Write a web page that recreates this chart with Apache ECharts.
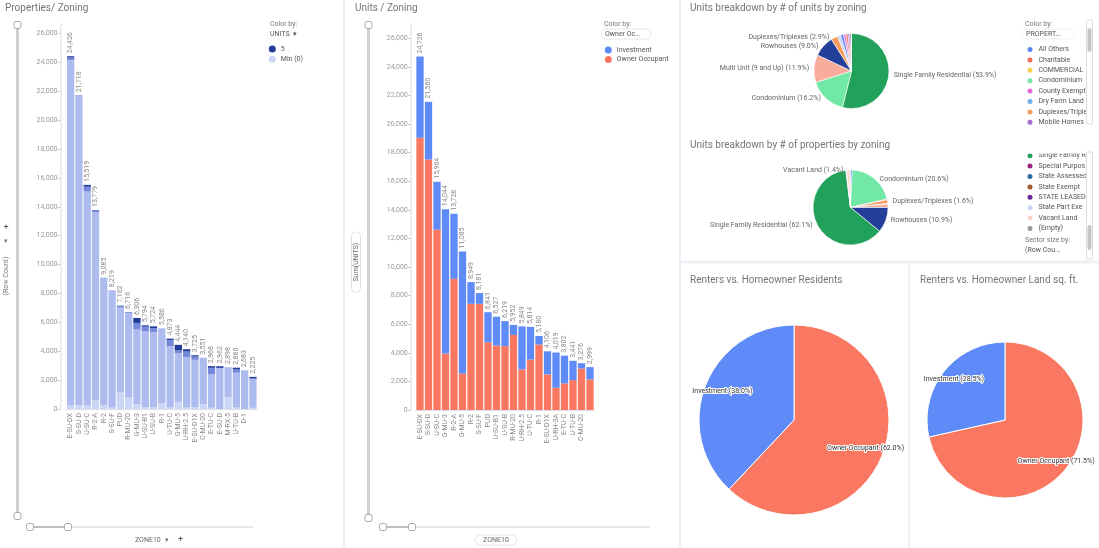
<!DOCTYPE html>
<html>
<head>
<meta charset="utf-8">
<title>Zoning dashboard</title>
<script src="https://cdn.jsdelivr.net/npm/echarts/dist/echarts.min.js"></script>
<style>
  html, body { margin: 0; padding: 0; background: #fff; }
  #main { width: 1099px; height: 548px; }
</style>
</head>
<body>
<div id="main"></div>
<script>
// ---- Properties / Zoning (row count, stacked by UNITS) ----
const propZones = ['E-SU-DX', 'S-SU-D', 'U-SU-C', 'R-2-A', 'R-2', 'S-SU-F', 'PUD', 'R-MU-20', 'G-MU-3', 'U-SU-B1', 'U-SU-B', 'R-1',
  'U-TU-C', 'G-MU-5', 'U-RH-2.5', 'E-SU-D1X', 'C-MU-20', 'E-TU-C', 'E-SU-D', 'M-RX-5', 'U-TU-B', 'D-1', 'U-RH-3A']
const propTotals = [24426, 21718, 15519, 13779, 9085, 8219, 7162, 6716, 6306, 5794, 5724, 5586, 4873, 4444, 4140, 3725, 3551, 2968, 2962, 2898, 2860, 2683, 2225]
const propUnits0 = [250, 280, 250, 620, 280, 90, 1150, 800, 320, 115, 115, 415, 100, 500, 100, 115, 345, 90, 0, 830, 100, 0, 80]
const propUnits1 = [23906, 21378, 14809, 13019, 8755, 8129, 5872, 5856, 5181, 5269, 5219, 5171, 4243, 3369, 3490, 3290, 3206, 2303, 2847, 2068, 2415, 2683, 2030]
const propUnits2to4 = [180, 60, 330, 140, 50, 0, 140, 60, 460, 320, 275, 0, 440, 185, 390, 230, 0, 460, 0, 0, 230, 0, 0]
const propUnits5 = [90, 0, 130, 0, 0, 0, 0, 0, 345, 90, 115, 0, 90, 390, 160, 90, 0, 115, 115, 0, 115, 0, 115]

// ---- Units / Zoning (sum of units, owner vs investment) ----
const unitZones = ['E-SU-DX', 'S-SU-D', 'U-SU-C', 'G-MU-3', 'R-2-A', 'G-MU-5', 'R-2', 'S-SU-F', 'PUD', 'U-SU-B1', 'U-SU-B', 'R-MU-20',
  'U-RH-2.5', 'U-TU-C', 'R-1', 'E-SU-D1X', 'U-RH-3A', 'E-TU-C', 'U-TU-B', 'C-MU-20', 'E-SU-D']
const unitTotals = [24726, 21560, 15964, 14044, 13728, 11085, 8949, 8181, 6841, 6527, 6219, 5952, 5849, 5814, 5180, 4106, 4019, 3802, 3441, 3276, 2999]
const unitOwner = [19040, 17520, 12620, 3950, 9175, 2560, 7425, 7425, 4740, 4510, 4470, 5250, 2840, 3530, 4580, 2490, 1555, 1860, 2090, 2900, 2140]
const unitInvest = [5686, 4040, 3344, 10094, 4553, 8525, 1524, 756, 2101, 2017, 1749, 702, 3009, 2284, 600, 1616, 2464, 1942, 1351, 376, 859]

// ---- pies (percent) ----
const unitsPieNames = ['Single Family Residential', 'Condominium', 'Multi Unit (9 and Up)', 'Rowhouses', 'Duplexes/Triplexes',
  'State Part Exempt', 'All Others', 'County Exempt', 'Charitable', 'Mobile Homes', '(Empty)',
  'Dry Farm Land', 'COMMERCIAL CONDO', 'Special Purpose', 'State Assessed', 'State Exempt', 'STATE LEASED-CO', 'Vacant Land']
const unitsPieValues = [53.9, 16.2, 11.9, 9.0, 2.9, 1.4, 1.3, 1.0, 0.9, 0.8, 0.7, 0, 0, 0, 0, 0, 0, 0]

const propsPieNames = ['All Others', 'Condominium', 'County Exempt', 'Duplexes/Triplexes', 'Mobile Homes', 'Multi Unit (9 and Up)',
  'Rowhouses', 'Single Family Residential', 'Special Purpose', 'State Part Exempt', 'Vacant Land', '(Empty)']
const propsPieValues = [0.8, 20.6, 0.3, 1.6, 0.2, 1.5, 10.9, 62.1, 0.2, 0.2, 1.4, 0.2]

const tenureNames = ['Owner Occupant', 'Investment']
const residentValues = [62.0, 38.0]
const landValues = [71.5, 28.5]

const legendTop = ['All Others', 'Charitable', 'COMMERCIAL CONDO', 'Condominium', 'County Exempt', 'Dry Farm Land', 'Duplexes/Triplexes', 'Mobile Homes']
const legendBottom = ['Single Family Residential', 'Special Purpose', 'State Assessed', 'State Exempt', 'STATE LEASED-CO', 'State Part Exempt', 'Vacant Land', '(Empty)']

const typeColors = {
  'All Others': '#5b87f5',
  'Charitable': '#f26a4f',
  'COMMERCIAL CONDO': '#f8d04a',
  'Condominium': '#72e8a6',
  'County Exempt': '#e46ad8',
  'Dry Farm Land': '#6cb2ec',
  'Duplexes/Triplexes': '#f59c5c',
  'Mobile Homes': '#a46bd3',
  'Multi Unit (9 and Up)': '#f9ac9c',
  'Rowhouses': '#233f9a',
  'Single Family Residential': '#22a15b',
  'Special Purpose': '#9c2282',
  'State Assessed': '#2a6aa2',
  'State Exempt': '#a3592a',
  'STATE LEASED-CO': '#6a2a9a',
  'State Part Exempt': '#c9d4f6',
  'Vacant Land': '#f8d3c9',
  '(Empty)': '#999999'
}
const ownerColor = '#fa7862'
const investColor = '#5f8bf8'

const fmt = v => Number(v).toLocaleString('en-US')
const FONT = 'Roboto, sans-serif'

function pieData(names, values) {
  return names.map((n, i) => ({ name: n, value: values[i], itemStyle: { color: typeColors[n] } }))
}

const axisLabelY = { fontSize: 7, color: '#9a9a9a', showMaxLabel: false, margin: 3, formatter: v => fmt(v) }
const valueAxisBase = {
  type: 'value', min: 0, interval: 2000,
  axisLine: { show: true, lineStyle: { color: '#e4e7ef', width: 1.5 } },
  axisTick: { show: true, length: 3, lineStyle: { color: '#cccccc' } },
  splitLine: { show: false },
  axisLabel: axisLabelY
}
const catAxisBase = {
  type: 'category',
  axisLine: { lineStyle: { color: '#dcdfe6' } },
  axisTick: { show: false },
  axisLabel: { rotate: 90, fontSize: 7, color: '#8a8a8a', margin: 4, interval: 0 }
}
const topLabel = totals => ({
  show: true, position: 'top', rotate: 90, align: 'left', verticalAlign: 'middle', distance: 3,
  fontSize: 7, color: '#888', formatter: p => fmt(totals[p.dataIndex])
})

// ---- Spotfire-like decorations ----
const G = []
const line = (x1, y1, x2, y2, color, w) => G.push({ type: 'line', silent: true, shape: { x1, y1, x2, y2 }, style: { stroke: color, lineWidth: w } })
const rect = (x, y, w, h, fill, stroke, r) => G.push({ type: 'rect', silent: true, shape: { x, y, width: w, height: h, r: r || 0 }, style: { fill, stroke: stroke || null, lineWidth: 1 }, z: 10 })
const txt = (x, y, t, o) => G.push({ type: 'text', silent: true, x, y, rotation: (o && o.rot) || 0,
  style: { text: t, fill: (o && o.color) || '#777', font: ((o && o.size) || 7) + 'px ' + FONT,
    textAlign: (o && o.align) || 'left', align: (o && o.align) || 'left', textVerticalAlign: 'middle', verticalAlign: 'middle' }, z: 11 })
const handle = (x, y) => rect(x - 3.5, y - 3.5, 7, 7, '#fff', '#a8a8a8', 2)

// panel separators
line(344, 0, 344, 548, '#eef0f4', 2)
line(680, 0, 680, 548, '#eef0f4', 2)
rect(681, 125, 418, 6, '#fff')
line(681, 128, 1099, 128, '#eef0f6', 3)
line(681, 262, 1099, 262, '#eef0f6', 3)
line(909, 263, 909, 548, '#eef0f4', 2)

// left chart sliders & axis title
line(17.5, 25, 17.5, 516, '#cfcfcf', 3)
handle(17.5, 25); handle(17.5, 516)
line(30, 527, 253, 527, '#e8e8e8', 2)
line(30, 527, 68, 527, '#bdbdbd', 2)
handle(30, 527); handle(68, 527)
txt(6, 228, '+', { size: 9, color: '#555', align: 'center' })
txt(6, 241, '▾', { size: 7, color: '#777', align: 'center' })
txt(6, 276, '(Row Count)', { rot: Math.PI / 2, align: 'center' })
txt(135, 540, 'ZONE10', { color: '#666' })
txt(165, 540, '▾', { color: '#777' })
txt(178, 540, '+', { size: 9, color: '#555' })
txt(270, 24, 'Color by:', { color: '#777' })
txt(270, 34, 'UNITS  ▾', { color: '#555' })

// middle chart sliders & axis title
line(368.5, 25, 368.5, 518, '#cfcfcf', 3)
handle(368.5, 25); handle(368.5, 518)
line(383, 527, 650, 527, '#e8e8e8', 2)
line(383, 527, 412, 527, '#bdbdbd', 2)
handle(383, 527); handle(412, 527)
rect(351.5, 232, 9, 60, '#fff', '#e2e2e2', 4)
txt(356, 262, 'Sum(UNITS)', { rot: Math.PI / 2, align: 'center', color: '#666' })
rect(475, 535, 42, 10, '#fff', '#e6e6e6', 5)
txt(496, 540, 'ZONE10', { align: 'center', color: '#666' })
txt(604, 24, 'Color by:', { color: '#777' })
rect(601, 29, 50, 10, '#fff', '#e6e6e6', 5)
txt(605, 34, 'Owner Oc...', { color: '#555' })

// pie legends chrome
txt(1025, 24, 'Color by:', { color: '#777' })
rect(1022, 29, 52, 10, '#fff', '#eeeeee', 5)
txt(1026, 34, 'PROPERT...', { color: '#555' })
rect(1086.5, 20, 6, 104, '#fff', '#dddddd', 1)
rect(1087.5, 28, 4, 24, '#c6c6c6', null, 2)
rect(1020, 131, 66, 22.5, '#fff')
rect(1086.5, 152, 6, 107, '#fff', '#dddddd', 1)
rect(1087.5, 225, 4, 25, '#c6c6c6', null, 2)
txt(1025, 240, 'Sector size by:', { color: '#777' })
txt(1025, 250, '(Row Cou...', { color: '#555' })

const titleStyle = { fontSize: 10, color: '#757575', fontWeight: 'normal', fontFamily: FONT }
const legendText = { fontSize: 7, color: '#555', fontFamily: FONT, lineHeight: 8 }
const legendBase = { orient: 'vertical', icon: 'circle', itemWidth: 7, itemHeight: 7, itemGap: 1.4, padding: 0, selectedMode: false }
const pieLegendText = Object.assign({ width: 51, overflow: 'truncate', ellipsis: '' }, legendText)

const chart = echarts.init(document.getElementById('main'), null, { renderer: 'canvas' })
chart.setOption({
  backgroundColor: '#fff',
  animation: false,
  textStyle: { fontFamily: FONT },
  title: [
    { text: 'Properties/ Zoning', left: 5, top: 3, padding: 0, textStyle: titleStyle },
    { text: 'Units / Zoning', left: 355, top: 3, padding: 0, textStyle: titleStyle },
    { text: 'Units breakdown by # of units by zoning', left: 690, top: 3, padding: 0, textStyle: titleStyle },
    { text: 'Units breakdown by # of properties by zoning', left: 690, top: 140, padding: 0, textStyle: titleStyle },
    { text: 'Renters vs. Homeowner Residents', left: 690, top: 275, padding: 0, textStyle: titleStyle },
    { text: 'Renters vs. Homeowner Land sq. ft.', left: 920, top: 275, padding: 0, textStyle: titleStyle }
  ],
  legend: [
    Object.assign({}, legendBase, { data: ['5', 'Min (0)'], left: 268.8, top: 45, itemGap: 2.2, textStyle: legendText }),
    Object.assign({}, legendBase, { data: ['Investment', 'Owner Occupant'], left: 604.8, top: 46, textStyle: legendText }),
    Object.assign({}, legendBase, { data: legendTop, left: 1025.5, top: 45, textStyle: pieLegendText }),
    Object.assign({}, legendBase, { data: legendBottom, left: 1025.5, top: 151.2, textStyle: pieLegendText })
  ],
  grid: [
    { left: 66.5, top: 23.4, width: 190.6, bottom: 139, outerBoundsMode: 'none' },
    { left: 415.75, top: 24, width: 178.5, bottom: 138, outerBoundsMode: 'none' }
  ],
  xAxis: [
    Object.assign({}, catAxisBase, { gridIndex: 0, data: propZones,
      axisLabel: Object.assign({}, catAxisBase.axisLabel, { interval: i => i < propZones.length - 1 }) }),
    Object.assign({}, catAxisBase, { gridIndex: 1, data: unitZones,
      axisLabel: Object.assign({}, catAxisBase.axisLabel, { interval: i => i < unitZones.length - 1 }) })
  ],
  yAxis: [
    Object.assign({}, valueAxisBase, { gridIndex: 0, max: 26700, offset: 6 }),
    Object.assign({}, valueAxisBase, { gridIndex: 1, max: 27000, offset: 5 })
  ],
  series: [
    { name: 'Min (0)', type: 'bar', stack: 'props', xAxisIndex: 0, yAxisIndex: 0, barCategoryGap: '12%', data: propUnits0, itemStyle: { color: '#cbd6f6' } },
    { name: '1', type: 'bar', stack: 'props', xAxisIndex: 0, yAxisIndex: 0, data: propUnits1, itemStyle: { color: '#adbbee' } },
    { name: '2-4', type: 'bar', stack: 'props', xAxisIndex: 0, yAxisIndex: 0, data: propUnits2to4, itemStyle: { color: '#7489da' } },
    { name: '5', type: 'bar', stack: 'props', xAxisIndex: 0, yAxisIndex: 0, data: propUnits5, itemStyle: { color: '#233b9a' }, label: topLabel(propTotals) },

    { name: 'Owner Occupant', type: 'bar', stack: 'units', xAxisIndex: 1, yAxisIndex: 1, barCategoryGap: '14%', data: unitOwner, itemStyle: { color: ownerColor } },
    { name: 'Investment', type: 'bar', stack: 'units', xAxisIndex: 1, yAxisIndex: 1, data: unitInvest, itemStyle: { color: investColor }, label: topLabel(unitTotals) },

    { name: 'units pie', type: 'pie', center: [851.5, 71], radius: 37.5, startAngle: 90, avoidLabelOverlap: false,
      data: pieData(unitsPieNames, unitsPieValues),
      itemStyle: { borderColor: '#fff', borderWidth: 0.6 },
      label: { show: true, position: 'outside', fontSize: 7, color: '#666', formatter: p => p.name + ' (' + p.value.toFixed(1) + '%)' },
      labelLine: { show: false, length: 0, length2: 0 } },
    { name: 'props pie', type: 'pie', center: [850.5, 207.5], radius: 37.5, startAngle: 90, avoidLabelOverlap: false,
      data: pieData(propsPieNames, propsPieValues).map(d => Object.assign(d, { label: { show: d.value >= 1 } })),
      itemStyle: { borderColor: '#fff', borderWidth: 0.6 },
      label: { position: 'outside', fontSize: 7, color: '#666', formatter: p => p.name + ' (' + p.value.toFixed(1) + '%)' },
      labelLine: { show: false, length: 0, length2: 0 } },

    { name: 'residents', type: 'pie', center: [794, 420], radius: 95, startAngle: 90, label: { show: false },
      itemStyle: { borderColor: '#fff', borderWidth: 1 },
      data: tenureNames.map((n, i) => ({ name: n, value: residentValues[i], itemStyle: { color: n === 'Investment' ? investColor : ownerColor } })) },
    { name: 'residents labels', type: 'pie', center: [794, 420], radius: [53, 95], startAngle: 90, silent: true,
      itemStyle: { color: 'transparent' },
      label: { show: true, position: 'inside', fontSize: 7, color: '#333', textBorderColor: '#fff', textBorderWidth: 2,
        formatter: p => p.name + ' (' + p.value.toFixed(1) + '%)' },
      data: tenureNames.map((n, i) => ({ name: n, value: residentValues[i] })) },
    { name: 'land', type: 'pie', center: [1005, 420], radius: 78, startAngle: 90, label: { show: false },
      itemStyle: { borderColor: '#fff', borderWidth: 1 },
      data: tenureNames.map((n, i) => ({ name: n, value: landValues[i], itemStyle: { color: n === 'Investment' ? investColor : ownerColor } })) },
    { name: 'land labels', type: 'pie', center: [1005, 420], radius: [47, 78], startAngle: 90, silent: true,
      itemStyle: { color: 'transparent' },
      label: { show: true, position: 'inside', fontSize: 7, color: '#333', textBorderColor: '#fff', textBorderWidth: 2,
        formatter: p => p.name + ' (' + p.value.toFixed(1) + '%)' },
      data: tenureNames.map((n, i) => ({ name: n, value: landValues[i] })) }
  ],
  graphic: G
})
</script>
</body>
</html>
